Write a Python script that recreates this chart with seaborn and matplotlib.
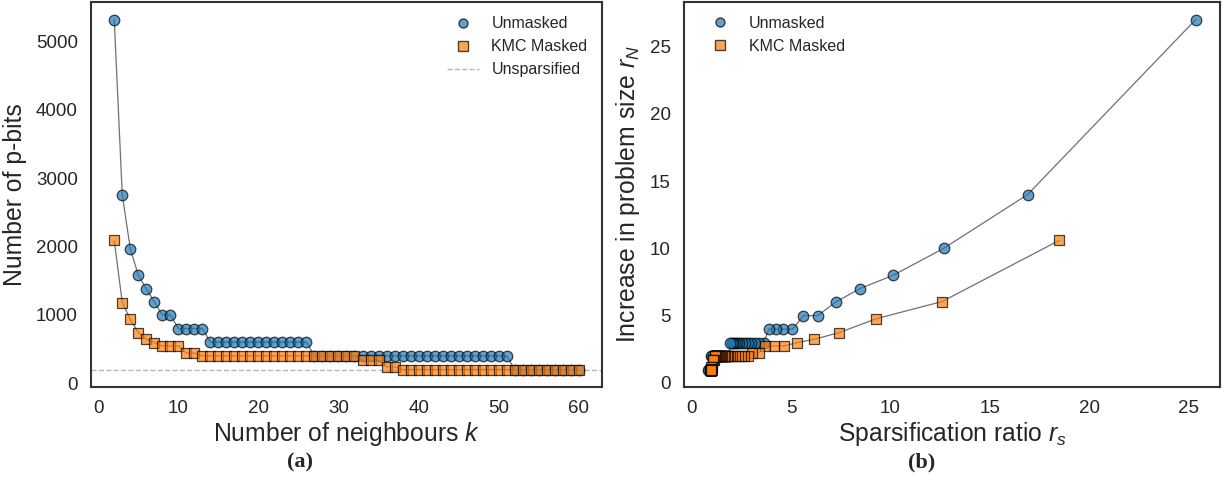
import numpy as np
import pandas as pd
import matplotlib
matplotlib.use("Agg")
import matplotlib.pyplot as plt
from matplotlib.lines import Line2D
import seaborn as sns

# ---------------------------------------------------------------- data
neighbours_k = np.arange(2, 61)

unmasked_pbits = ([5320, 2760, 1970, 1580, 1380, 1190, 1000, 1000]
                  + [800] * 4 + [600] * 13 + [400] * 25 + [200] * 9)
masked_pbits = ([2090, 1180, 935, 740, 645, 595, 545, 545, 545, 440, 440]
                + [400] * 20 + [335] * 3 + [240] * 2 + [200] * 23)
unsparsified_pbits = 200

unmasked_rs = [25.35, 16.90, 12.68, 10.14, 8.45, 7.24, 6.34, 5.63, 5.07, 4.61,
               4.23, 3.90, 3.62, 3.38, 3.17, 2.98, 2.82, 2.67, 2.54, 2.41,
               2.30, 2.20, 2.11, 2.03, 1.95, 1.88, 1.81, 1.75, 1.69, 1.64,
               1.58, 1.54, 1.49, 1.45, 1.41, 1.37, 1.33, 1.30, 1.27, 1.24,
               1.21, 1.18, 1.15, 1.13, 1.10, 1.08, 1.06, 1.03, 1.01, 0.99,
               0.98, 0.96, 0.94, 0.92, 0.91, 0.89, 0.87, 0.86, 0.85]
unmasked_rn = ([27, 14, 10, 8, 7, 6, 5, 5] + [4] * 4 + [3] * 13
               + [2] * 25 + [1] * 9)

masked_rs = ([18.5, 12.6, 9.28, 7.42, 6.16, 5.32, 4.65, 4.14, 3.72, 3.38, 3.03,
              2.85, 2.65, 2.47, 2.32, 2.18, 2.06, 1.95, 1.86, 1.77, 1.69,
              1.61, 1.55, 1.48, 1.43, 1.37, 1.33, 1.28, 1.24, 1.20, 1.16,
              1.12, 1.09, 1.06, 1.03, 1.00] + [1.00] * 23)
masked_rn = ([10.6, 6.05, 4.77, 3.74, 3.24, 3.0, 2.75, 2.75, 2.75, 2.26, 2.26]
             + [2.0] * 20 + [1.7] * 3 + [1.2] * 2 + [1.0] * 23)

left_df = pd.DataFrame({"k": neighbours_k,
                        "unmasked": unmasked_pbits,
                        "masked": masked_pbits})
right_df = pd.DataFrame({"u_rs": unmasked_rs, "u_rn": unmasked_rn,
                         "m_rs": masked_rs, "m_rn": masked_rn})

# ---------------------------------------------------------------- style
sns.set_theme(style="white")
plt.rcParams["font.family"] = ["Liberation Sans", "DejaVu Sans"]
plt.rcParams["mathtext.fontset"] = "custom"
plt.rcParams["mathtext.rm"] = "Liberation Sans"
plt.rcParams["mathtext.it"] = "Liberation Sans:italic"
plt.rcParams["axes.edgecolor"] = "#333333"
plt.rcParams["axes.linewidth"] = 1.5

blue = "tab:blue"
orange = "tab:orange"
label_size = 17.8
tick_size = 13.5
line_kw = dict(color="#707070", linewidth=0.9, zorder=1)
scat_kw = dict(alpha=0.7, edgecolor="black", linewidth=0.9, zorder=3)

fig = plt.figure(figsize=(12.25, 5.01), dpi=100)
ax1 = fig.add_axes([0.0743, 0.2275, 0.4171, 0.7685])
ax2 = fig.add_axes([0.5584, 0.2275, 0.4376, 0.7685])

# ---------------------------------------------------------------- (a)
sns.lineplot(data=left_df, x="k", y="unmasked", ax=ax1, **line_kw)
sns.lineplot(data=left_df, x="k", y="masked", ax=ax1, **line_kw)
sns.scatterplot(data=left_df, x="k", y="unmasked", ax=ax1, marker="o",
                s=58, color=blue, **scat_kw)
sns.scatterplot(data=left_df, x="k", y="masked", ax=ax1, marker="s",
                s=58, color=orange, **scat_kw)
ax1.axhline(unsparsified_pbits, color="#b8b8b8", linestyle="--",
            linewidth=1.0, zorder=0)

ax1.set_xlabel("Number of neighbours $k$", fontsize=label_size, labelpad=2)
ax1.set_ylabel("Number of p-bits", fontsize=label_size, labelpad=6)
ax1.set_xticks([0, 10, 20, 30, 40, 50, 60])
ax1.set_yticks([0, 1000, 2000, 3000, 4000, 5000])
ax1.tick_params(labelsize=tick_size)

h1 = [Line2D([], [], marker="o", linestyle="", markersize=6.5,
             markerfacecolor=blue, markeredgecolor="black", alpha=0.7),
      Line2D([], [], marker="s", linestyle="", markersize=6.5,
             markerfacecolor=orange, markeredgecolor="black", alpha=0.7),
      Line2D([], [], color="#b8b8b8", linestyle="--", linewidth=1.0)]
ax1.legend(h1, ["Unmasked", "KMC Masked", "Unsparsified"], loc="upper right",
           frameon=False, fontsize=11.5)

# ---------------------------------------------------------------- (b)
sns.lineplot(data=right_df, x="u_rs", y="u_rn", ax=ax2, sort=False,
             estimator=None, **line_kw)
sns.lineplot(data=right_df, x="m_rs", y="m_rn", ax=ax2, sort=False,
             estimator=None, **line_kw)
sns.scatterplot(data=right_df, x="u_rs", y="u_rn", ax=ax2, marker="o",
                s=58, color=blue, **scat_kw)
sns.scatterplot(data=right_df, x="m_rs", y="m_rn", ax=ax2, marker="s",
                s=58, color=orange, **scat_kw)

ax2.set_xlabel("Sparsification ratio $r_s$", fontsize=label_size, labelpad=2)
ax2.set_ylabel("Increase in problem size $r_N$", fontsize=label_size,
               labelpad=6)
ax2.set_xticks([0, 5, 10, 15, 20, 25])
ax2.set_yticks([0, 5, 10, 15, 20, 25])
ax2.tick_params(labelsize=tick_size)
ax2.legend(h1[:2], ["Unmasked", "KMC Masked"], loc="upper left",
           bbox_to_anchor=(0.012, 1.0), frameon=False, fontsize=11.5,
           borderaxespad=0.45)

# ---------------------------------------------------------------- captions
fig.text(0.245, 0.076, "(a)", ha="center", va="center", fontsize=16,
         fontweight="bold", family="Liberation Serif")
fig.text(0.752, 0.076, "(b)", ha="center", va="center", fontsize=16,
         fontweight="bold", family="Liberation Serif")

fig.savefig("out.png", dpi=100)
